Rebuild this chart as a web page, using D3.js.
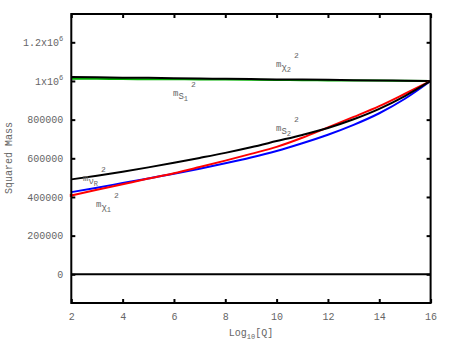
<!DOCTYPE html>
<html><head><meta charset="utf-8">
<script src="https://cdn.jsdelivr.net/npm/d3@7"></script>
<style>body{margin:0;background:#fff}svg{display:block}</style>
</head><body>
<script>
const xs = [2,3,4,5,6,7,8,9,10,11,12,13,14,15,16];
const mS2 = [491000,510000,531000,553000,577000,602000,628000,657000,689000,721000,757000,802000,856000,922000,1000000];
const mNuR = [425000,448000,472000,496000,520000,546000,574000,604000,638000,678000,722000,773000,833000,908000,1000000];
const mChi1 = [408000,437000,466000,495000,523000,555000,588000,623000,659000,706000,760000,814000,870000,934000,1000000];
const mChi2 = [1012000,1011000,1010000,1009000,1009000,1008000,1007000,1006000,1005000,1004000,1003000,1003000,1002000,1001000,1000000];
const mS1 = [1020000,1019000,1017000,1016000,1014000,1013000,1011000,1010000,1008000,1007000,1006000,1004000,1003000,1001000,1000000];
const zeroLine = [0,0,0,0,0,0,0,0,0,0,0,0,0,0,0];
const xTicks = [2,4,6,8,10,12,14,16];
const yTicks = [0,200000,400000,600000,800000,1000000,1200000];
const yTickLabels = ["0","200000","400000","600000","800000","1x10|6","1.2x10|6"];

const W=450,H=354;
const svg=d3.select("body").append("svg").attr("width",W).attr("height",H);
const x=d3.scaleLinear().domain([2,16]).range([71.3,430.6]);
const y=d3.scaleLinear().domain([0,1200000]).range([274.3,42.3]);
const plotTop=14,plotBot=303;
const mono="'Liberation Mono','DejaVu Sans Mono',monospace";
const grey="#666";

// axes
const gx=svg.append("g").attr("transform",`translate(0,${plotBot})`)
  .call(d3.axisBottom(x).tickValues(xTicks).tickSizeInner(-4).tickSizeOuter(0).tickPadding(10).tickFormat(d3.format("d")));
const gy=svg.append("g").attr("transform",`translate(71.3,0)`)
  .call(d3.axisLeft(y).tickValues(yTicks).tickSizeInner(-4).tickSizeOuter(0).tickPadding(8).tickFormat(""));
const gyr=svg.append("g").attr("transform",`translate(430.6,0)`)
  .call(d3.axisRight(y).tickValues(yTicks).tickSizeInner(-4).tickSizeOuter(0).tickFormat(""));
const gxt=svg.append("g").attr("transform",`translate(0,${plotTop})`)
  .call(d3.axisTop(x).tickValues(xTicks).tickSizeInner(-4).tickSizeOuter(0).tickFormat(""));
[gx,gy,gyr,gxt].forEach(g=>{g.select(".domain").remove();g.selectAll(".tick line").attr("stroke","#000").attr("stroke-width",2);});
gx.selectAll(".tick text").attr("font-family",mono).attr("font-size",10).attr("fill",grey);
gy.selectAll(".tick").each(function(d,i){
  const parts=yTickLabels[i].split("|");
  const t=d3.select(this).append("text").attr("x",-8).attr("dy","0.32em").attr("text-anchor","end")
    .attr("font-family",mono).attr("font-size",10).attr("fill",grey);
  if(parts.length===1){t.text(parts[0]);}
  else{t.append("tspan").text(parts[0]);t.append("tspan").attr("dy",-5).attr("font-size",7).text(parts[1]);}
});

// lines
const line=d3.line().x((d,i)=>x(xs[i])).y(d=>y(d)).curve(d3.curveMonotoneX);
const series=[[zeroLine,"#000"],[mChi2,"#00b000"],[mS1,"#000"],[mNuR,"#0000ff"],[mChi1,"#ff0000"],[mS2,"#000"]];
series.forEach(([v,c])=>svg.append("path").attr("d",line(v)).attr("fill","none").attr("stroke",c).attr("stroke-width",2));
svg.append("rect").attr("x",x(2)-1.5).attr("y",y(mChi1[0])-1.5).attr("width",3).attr("height",3).attr("fill","#ff0000");

// frame
svg.append("rect").attr("x",71.3).attr("y",plotTop).attr("width",430.6-71.3).attr("height",plotBot-plotTop)
  .attr("fill","none").attr("stroke","#000").attr("stroke-width",2);

// axis titles
const xt=svg.append("text").attr("x",251).attr("y",336).attr("text-anchor","middle")
  .attr("font-family",mono).attr("font-size",10).attr("fill",grey);
xt.append("tspan").text("Log");
xt.append("tspan").attr("dy",3).attr("font-size",7).text("10");
xt.append("tspan").attr("dy",-3).text("[Q]");
svg.append("text").attr("transform","translate(12,158) rotate(-90)").attr("text-anchor","middle")
  .attr("font-family",mono).attr("font-size",10).attr("fill",grey).text("Squared Mass");

// curve labels
function lab(px,py,a,b){
  const t=svg.append("text").attr("x",px).attr("y",py).attr("font-family",mono).attr("font-size",9).attr("fill",grey);
  t.append("tspan").text("m");
  t.append("tspan").attr("dy",3).text(a);
  t.append("tspan").attr("dy",2).attr("font-size",7).text(b);
  t.append("tspan").attr("dy",-14).attr("dx",3).attr("font-size",8).text("2");
}
lab(276,67,"χ","2");
lab(173,96,"S","1");
lab(276,131,"S","2");
lab(83,181,"ν","R");
lab(96,207,"χ","1");
</script>
</body></html>
